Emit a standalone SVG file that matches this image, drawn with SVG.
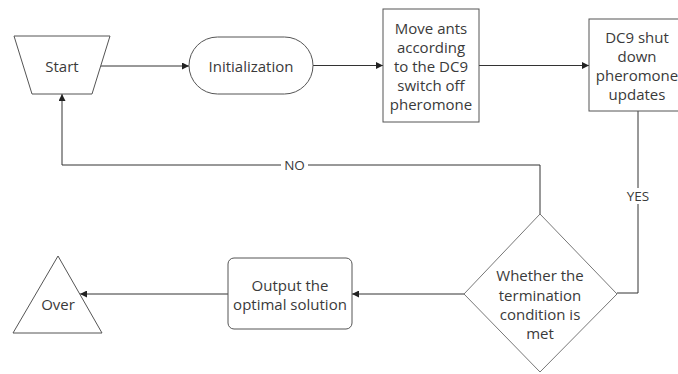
<svg xmlns="http://www.w3.org/2000/svg" width="678" height="374" viewBox="0 0 678 374">
<defs>
<style>
.shape{fill:#fff;stroke:#555;stroke-width:1}
.dia{fill:#fff;stroke:#777;stroke-width:1}
.t{font-family:"Open Sans","Noto Sans",sans-serif;font-size:15px;fill:#3a3a3a;text-anchor:middle;dominant-baseline:central}
.lbl{font-family:"Open Sans","Noto Sans",sans-serif;font-size:13.5px;fill:#3a3a3a;text-anchor:middle;dominant-baseline:central}
.c{fill:none;stroke:#333;stroke-width:1}
</style>
<marker id="arr" viewBox="0 0 10 10" refX="10" refY="5" markerWidth="7" markerHeight="7" markerUnits="userSpaceOnUse" orient="auto">
<path d="M0,0 L10,5 L0,10 Z" fill="#222"/>
</marker>
</defs>
<rect width="678" height="374" fill="#fff"/>
<g id="connectors">
<path class="c" d="M101,66 H189" marker-end="url(#arr)"/>
<path class="c" d="M313,65.5 H383" marker-end="url(#arr)"/>
<path class="c" d="M479,65.5 H589" marker-end="url(#arr)"/>
<path class="c" d="M638,111 V293 H617"/>
<path class="c" d="M540,214 V165 H62 V94" marker-end="url(#arr)"/>
<path class="c" d="M464,294 H352" marker-end="url(#arr)"/>
<path class="c" d="M228,294 H80" marker-end="url(#arr)"/>
<rect x="281" y="157" width="27" height="16" fill="#fff"/>
<text class="lbl" x="294.5" y="165">NO</text>
<rect x="624" y="188" width="28" height="16" fill="#fff"/>
<text class="lbl" x="638" y="196">YES</text>
</g>
<g id="start">
<polygon class="shape" points="14,36 110,36 92,94 32,94"/>
<text class="t" x="62" y="66">Start</text>
</g>
<g id="init">
<rect class="shape" x="189" y="37" width="124" height="57" rx="28.5"/>
<text class="t" x="251" y="66">Initialization</text>
</g>
<g id="move">
<rect class="shape" x="383" y="9" width="96" height="113"/>
<text class="t" x="431" y="28">Move ants</text>
<text class="t" x="431" y="47">according</text>
<text class="t" x="431" y="66">to the DC9</text>
<text class="t" x="431" y="85">switch off</text>
<text class="t" x="431" y="104">pheromone</text>
</g>
<g id="dc9">
<rect class="shape" x="589" y="19" width="97" height="92"/>
<text class="t" x="637" y="37">DC9 shut</text>
<text class="t" x="637" y="56">down</text>
<text class="t" x="637" y="75">pheromone</text>
<text class="t" x="637" y="94">updates</text>
</g>
<g id="decision">
<polygon class="dia" points="540,214 617,294 540,372 464,294"/>
<text class="t" x="540" y="275">Whether the</text>
<text class="t" x="540" y="295">termination</text>
<text class="t" x="540" y="314">condition is</text>
<text class="t" x="540" y="333">met</text>
</g>
<g id="output">
<rect class="shape" x="228" y="258" width="124" height="71" rx="6"/>
<text class="t" x="290" y="285">Output the</text>
<text class="t" x="290" y="304">optimal solution</text>
</g>
<g id="over">
<polygon class="shape" points="58,256 102,333 13,333"/>
<text class="t" x="58" y="304">Over</text>
</g>
</svg>
